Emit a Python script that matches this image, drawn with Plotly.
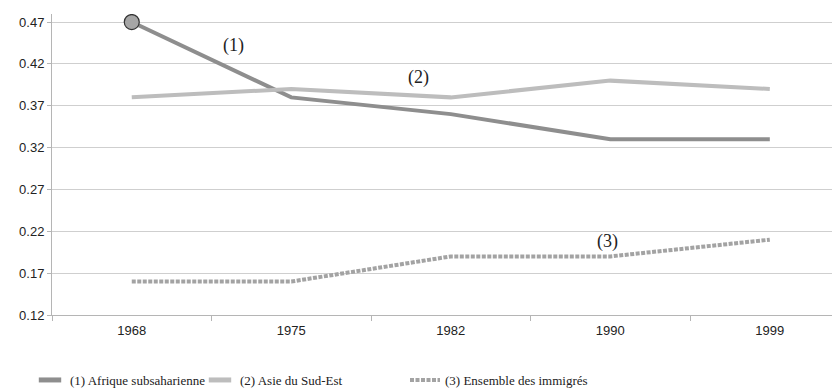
import plotly.graph_objects as go

years = ["1968", "1975", "1982", "1990", "1999"]
afrique = [0.47, 0.38, 0.36, 0.33, 0.33]
asie = [0.38, 0.39, 0.38, 0.40, 0.39]
ensemble = [0.16, 0.16, 0.19, 0.19, 0.21]
names = ["(1) Afrique subsaharienne", "(2) Asie du Sud-Est", "(3) Ensemble des immigrés"]
colors = ["#8e8e8e", "#bdbdbd", "#a3a3a3"]
yticks = [0.12, 0.17, 0.22, 0.27, 0.32, 0.37, 0.42, 0.47]

W, H = 832, 383
fig = go.Figure()
fig.add_trace(go.Scatter(x=years, y=afrique, name=names[0], mode="lines", showlegend=False,
                         line=dict(color=colors[0], width=4)))
fig.add_trace(go.Scatter(x=years, y=asie, name=names[1], mode="lines", showlegend=False,
                         line=dict(color=colors[1], width=4)))
fig.add_trace(go.Scatter(x=years, y=ensemble, name=names[2], mode="lines", legend="legend3",
                         line=dict(color=colors[2], width=4, dash="4px,1.5px")))
fig.add_trace(go.Scatter(x=[years[0]], y=[afrique[0]], mode="markers", showlegend=False,
                         marker=dict(size=15, color="#a6a6a6", line=dict(color="#333333", width=1.2))))
# legend entries with short line symbols
for i, lg in [(0, "legend"), (1, "legend2")]:
    fig.add_trace(go.Scatter(x=[None], y=[None], name=names[i], mode="markers", legend=lg,
                             marker=dict(symbol="line-ew", size=22, color=colors[i],
                                         line=dict(color=colors[i], width=5))))

serif = "Liberation Serif, Times New Roman, serif"
for txt, xi, yv in [("(1)", 0.64, 0.442), ("(2)", 1.80, 0.4035), ("(3)", 2.98, 0.2084)]:
    fig.add_annotation(x=xi, y=yv, text=txt, showarrow=False,
                       font=dict(family=serif, size=18, color="#222"), xref="x", yref="y")

def leg(xpx):
    return dict(orientation="h", xref="container", x=xpx / W, xanchor="left",
                yref="container", y=11 / H, yanchor="middle", itemsizing="trace",
                font=dict(family=serif, size=13, color="#222"), bgcolor="rgba(0,0,0,0)")

fig.update_layout(
    width=W, height=H,
    margin=dict(l=44, r=0, t=6, b=76, autoexpand=False),
    plot_bgcolor="white", paper_bgcolor="white",
    font=dict(family="Liberation Sans, Arial, sans-serif", size=13, color="#222"),
    legend=leg(22), legend2=leg(192), legend3=leg(397),
    xaxis=dict(type="category", range=[-0.5, 4.44], showgrid=False, automargin=False,
               showline=True, linecolor="#b5b5b5", linewidth=1,
               ticks="outside", tickson="boundaries", ticklen=5, tickcolor="#b5b5b5",
               ticklabelstandoff=3, tickfont=dict(size=13)),
    yaxis=dict(range=[0.12, 0.4796], tickvals=yticks, ticktext=[f"{v:.2f}" for v in yticks],
               showgrid=True, gridcolor="#cfcfcf", gridwidth=1, automargin=False,
               showline=True, linecolor="#b5b5b5", linewidth=1, zeroline=False,
               ticks="outside", ticklen=4, tickcolor="#b5b5b5", tickfont=dict(size=13)),
)

fig.write_html("out.html")
